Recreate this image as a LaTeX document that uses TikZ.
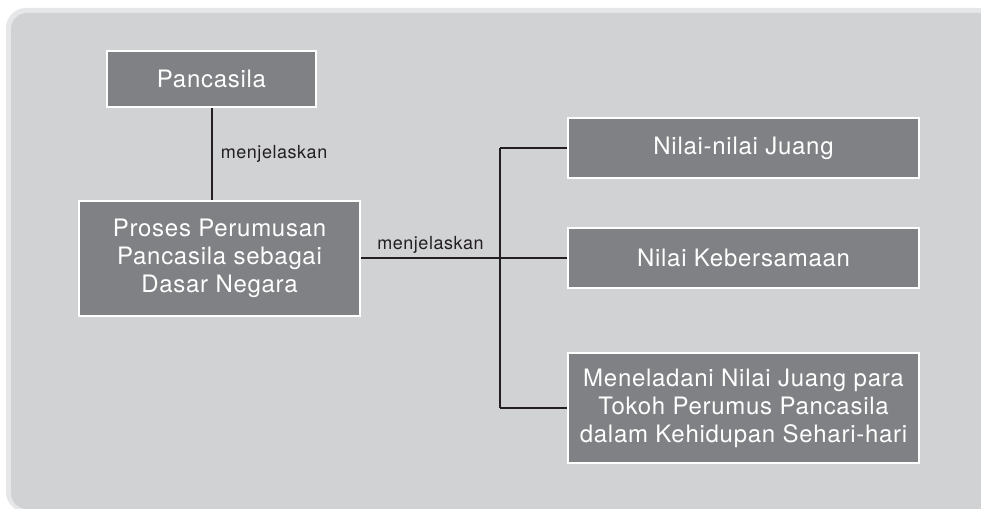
\documentclass[tikz,border=0pt]{standalone}
\usepackage{fontspec}
\setmainfont[LetterSpace=3]{TeX Gyre Heros}
\usetikzlibrary{positioning}
\definecolor{panelgray}{HTML}{D1D2D4}
\definecolor{panelrim}{HTML}{E6E7E8}
\definecolor{boxgray}{HTML}{808184}
\definecolor{inkdark}{HTML}{231F20}

\begin{document}
\begin{tikzpicture}[x=1pt,y=-1pt,
  box/.style={draw=white,line width=2pt,fill=boxgray,text=white,align=center,
    inner sep=0pt,font=\fontsize{24}{28}\selectfont},
  link/.style={draw=inkdark,line width=2pt},
  lbl/.style={text=inkdark,font=\fontsize{18}{20}\selectfont}]
\useasboundingbox (0,0) rectangle (981,508);
% panel
\fill[panelrim,rounded corners=20pt] (6,8) rectangle (1010,512);
\fill[panelgray,rounded corners=16pt] (11,13) rectangle (1010,509);
% boxes
\node[box,minimum width=209,minimum height=56] (pancasila) at (211.5,79) {Pancasila};
\node[box,minimum width=281,minimum height=115] (proses) at (219.5,258)
 {Proses Perumusan\\Pancasila sebagai\\Dasar Negara};
\node[box,minimum width=351,minimum height=60] (juang) at (743.5,148) {Nilai-nilai Juang};
\node[box,minimum width=351,minimum height=60] (kebersamaan) at (743.5,258) {Nilai Kebersamaan};
\node[box,minimum width=351,minimum height=110] (teladan) at (743.5,408)
 {Meneladani Nilai Juang para\\Tokoh Perumus Pancasila\\dalam Kehidupan Sehari-hari};
% connectors
\coordinate (fork) at (500,258);
\draw[link] (pancasila.south) -- node[lbl,right,xshift=5pt]{menjelaskan} (pancasila.south |- proses.north);
\draw[link] (proses.east) -- node[lbl,above]{menjelaskan} (fork);
\draw[link] (juang.west -| fork) -- (teladan.west -| fork);
\foreach \b in {juang,kebersamaan,teladan}
  \draw[link] (\b.west -| fork) -- (\b.west);
\end{tikzpicture}
\end{document}
